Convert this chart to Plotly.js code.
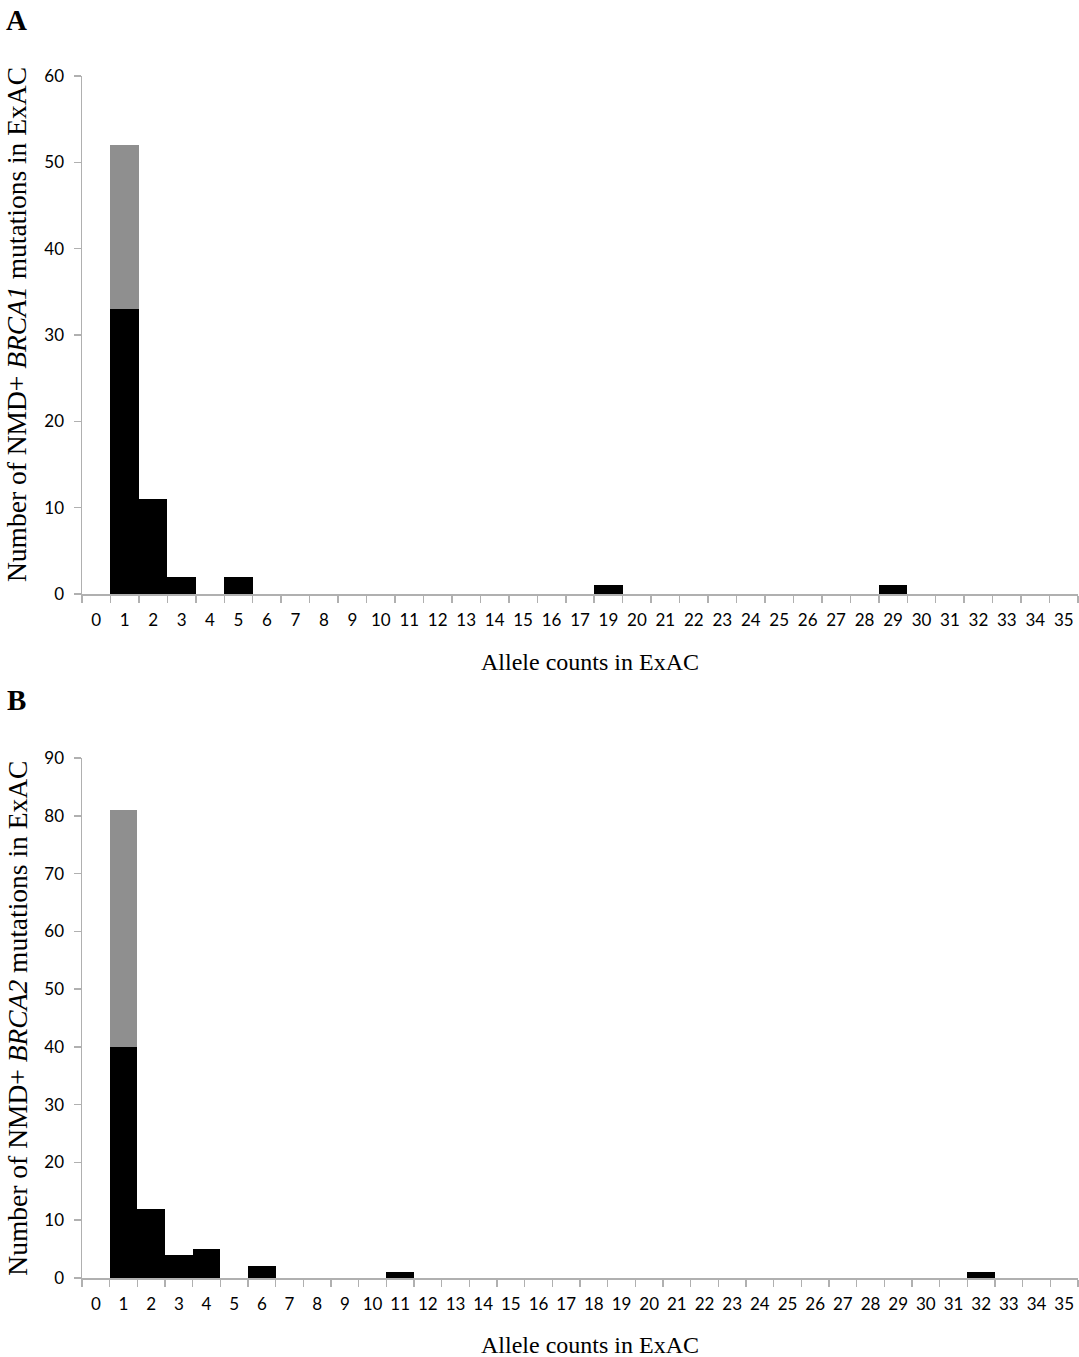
<!DOCTYPE html>
<html>
<head>
<meta charset="utf-8">
<script src="https://cdn.plot.ly/plotly-3.0.1.min.js"></script>
<style>
  html, body { margin: 0; padding: 0; background: #fff; }
  #chart { width: 1079px; height: 1357px; }
</style>
</head>
<body>
<div id="chart"></div>
<script>
/* ── Data: allele count categories and NMD+ mutation counts ── */
// Panel A (BRCA1): the original axis has no "18" category
const catsA = ['0','1','2','3','4','5','6','7','8','9','10','11','12','13','14','15','16','17',
               '19','20','21','22','23','24','25','26','27','28','29','30','31','32','33','34','35'];
const blackA = [0,33,11,2,0,2,0,0,0,0,0,0,0,0,0,0,0,0,
                1,0,0,0,0,0,0,0,0,0,1,0,0,0,0,0,0];
const greyA  = [0,19,0,0,0,0,0,0,0,0,0,0,0,0,0,0,0,0,
                0,0,0,0,0,0,0,0,0,0,0,0,0,0,0,0,0];

// Panel B (BRCA2)
const catsB = ['0','1','2','3','4','5','6','7','8','9','10','11','12','13','14','15','16','17',
               '18','19','20','21','22','23','24','25','26','27','28','29','30','31','32','33','34','35'];
const blackB = [0,40,12,4,5,0,2,0,0,0,0,1,0,0,0,0,0,0,
                0,0,0,0,0,0,0,0,0,0,0,0,0,0,1,0,0,0];
const greyB  = [0,41,0,0,0,0,0,0,0,0,0,0,0,0,0,0,0,0,
                0,0,0,0,0,0,0,0,0,0,0,0,0,0,0,0,0,0];

const BLACK = '#000000';
const GREY  = '#8f8f8f';
const AXIS_GREY = '#b0b0b0';

const TICK_FONT  = { family: 'Lato, "Open Sans", sans-serif', size: 17, color: '#000' };
const TITLE_FONT = { family: '"Liberation Serif", "Times New Roman", serif', size: 24, color: '#000' };

const xBase = {
    type: 'category',
    showgrid: false,
    zeroline: false,
    showline: true,
    linecolor: AXIS_GREY,
    linewidth: 1.5,
    ticks: 'outside',
    tickson: 'boundaries',
    ticklen: 7,
    tickcolor: AXIS_GREY,
    tickwidth: 1.5,
    tickangle: 0,
    ticklabelstandoff: 10,
    tickfont: TICK_FONT,
    fixedrange: true
};

const yBase = {
    showgrid: false,
    zeroline: false,
    showline: true,
    linecolor: AXIS_GREY,
    linewidth: 1.5,
    ticks: 'outside',
    ticklen: 7,
    tickcolor: AXIS_GREY,
    tickwidth: 1.5,
    ticklabelstandoff: 6,
    tickfont: TICK_FONT,
    fixedrange: true
};

function barTrace(x, y, color, xa, ya) {
    return {
        type: 'bar', x: x, y: y, xaxis: xa, yaxis: ya,
        marker: { color: color, line: { width: 0 } },
        hoverinfo: 'skip', showlegend: false
    };
}

const traces = [
    barTrace(catsA, blackA, BLACK, 'x',  'y'),
    barTrace(catsA, greyA,  GREY,  'x',  'y'),
    barTrace(catsB, blackB, BLACK, 'x2', 'y2'),
    barTrace(catsB, greyB,  GREY,  'x2', 'y2')
];

/* Text placed in paper coords, always centred on its point */
function label(text, x, y, font, angle) {
    return {
        text: text, xref: 'paper', yref: 'paper', x: x, y: y,
        xanchor: 'center', yanchor: 'middle',
        textangle: angle || 0, showarrow: false, font: font
    };
}

const layout = {
    width: 1079, height: 1357,
    paper_bgcolor: '#fff', plot_bgcolor: '#fff',
    margin: { l: 82, r: 1, t: 76, b: 79 },
    barmode: 'stack',
    bargap: 0,
    showlegend: false,
    xaxis:  { ...xBase, anchor: 'y',  domain: [0, 1] },
    yaxis:  { ...yBase, anchor: 'x',  domain: [0.569, 1], range: [0, 60], dtick: 10 },
    xaxis2: { ...xBase, anchor: 'y2', domain: [0, 1] },
    yaxis2: { ...yBase, anchor: 'x2', domain: [0, 0.4326], range: [0, 90], dtick: 10 },
    annotations: [
        label('<b>A</b>', -0.066, 1.047, { ...TITLE_FONT, size: 29 }),
        label('<b>B</b>', -0.066, 0.481, { ...TITLE_FONT, size: 29 }),
        label('Allele counts in ExAC', 0.51, 0.5125, TITLE_FONT),
        label('Allele counts in ExAC', 0.51, -0.0557, TITLE_FONT),
        label('Number of NMD+ <i>BRCA1</i> mutations in ExAC', -0.065, 0.793,
              { ...TITLE_FONT, size: 27.5 }, -90),
        label('Number of NMD+ <i>BRCA2</i> mutations in ExAC', -0.065, 0.216,
              { ...TITLE_FONT, size: 27.5 }, -90)
    ]
};

Plotly.newPlot('chart', traces, layout, { displayModeBar: false, staticPlot: true });
</script>
</body>
</html>
